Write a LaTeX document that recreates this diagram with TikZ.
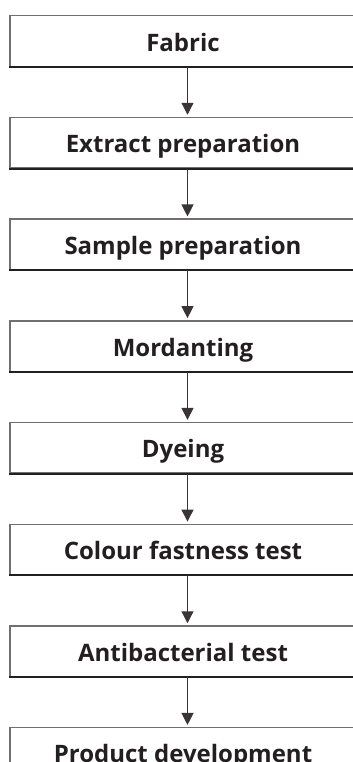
\documentclass[tikz,border=0pt]{standalone}
\usepackage{fontspec}
\setmainfont{Open Sans}
\usetikzlibrary{arrows.meta,positioning}
\definecolor{edgegray}{HTML}{707070}
\definecolor{inkdark}{HTML}{231F20}
\tikzset{
	stagebox/.style={draw=edgegray, line width=0.7pt, minimum width=173pt, minimum height=25.25pt,
		inner sep=0pt, text height=10pt, text depth=0pt,
		font=\fontsize{12}{14}\selectfont\bfseries, text=inkdark},
	baseedge/.style={draw=inkdark, line width=1pt},
	flowarrow/.style={draw=inkdark!90, line width=0.6pt, shorten >=1pt,
		-{Triangle[length=6pt,width=6pt]}}
}
\newcommand{\stagebase}[1]{\draw[baseedge] (#1.south west) -- (#1.south east);}
\newcommand{\stageflow}[2]{\draw[flowarrow] ([xshift=2.25pt]#1.south) -- ([xshift=2.25pt]#2.north);}

\begin{document}
\begin{tikzpicture}[x=0.5pt,y=-0.5pt, node distance=24.9pt]
	\useasboundingbox (0,0) rectangle (353,762);
	\clip (0,0) rectangle (353,762);

	\node[stagebox] (fabric) at (183,41) {Fabric};
	\node[stagebox, below=of fabric] (extract) {Extract preparation};
	\node[stagebox, below=of extract] (sample) {Sample preparation};
	\node[stagebox, below=of sample] (mordant) {Mordanting};
	\node[stagebox, below=of mordant] (dyeing) {Dyeing};
	\node[stagebox, below=of dyeing] (fastness) {Colour fastness test};
	\node[stagebox, below=of fastness] (antibac) {Antibacterial test};
	\node[stagebox, below=of antibac] (product) {Product development};

	\stagebase{fabric} \stagebase{extract} \stagebase{sample} \stagebase{mordant}
	\stagebase{dyeing} \stagebase{fastness} \stagebase{antibac} \stagebase{product}

	\stageflow{fabric}{extract}
	\stageflow{extract}{sample}
	\stageflow{sample}{mordant}
	\stageflow{mordant}{dyeing}
	\stageflow{dyeing}{fastness}
	\stageflow{fastness}{antibac}
	\stageflow{antibac}{product}
\end{tikzpicture}
\end{document}
